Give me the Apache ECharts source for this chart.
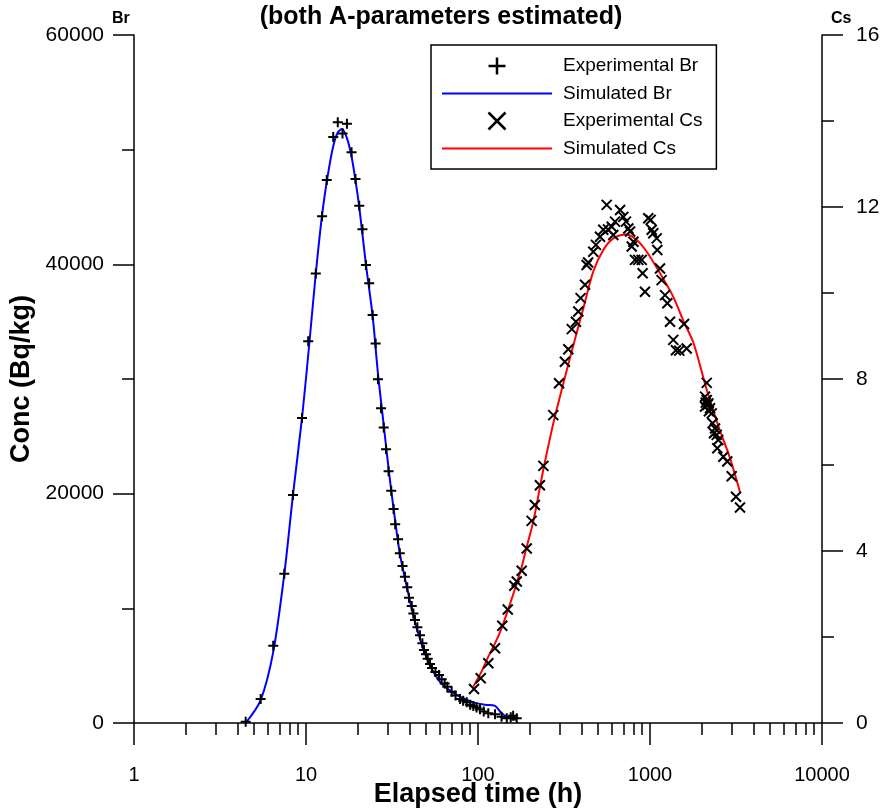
<!DOCTYPE html>
<html>
<head>
<meta charset="utf-8">
<script src="https://cdn.jsdelivr.net/npm/echarts@6/dist/echarts.min.js"></script>
<style>html,body{margin:0;padding:0;background:#fff}#c{width:882px;height:810px}</style>
</head>
<body>
<div id="c"></div>
<script>
// ---- data ----
var brTime = [4.46,5.45,6.45,7.48,8.4,9.48,10.3,11.4,12.4,13.2,14.4,15.3,16.3,17.3,18.4,19.4,20.4,21.3,22.3,23.3,24.4,25.4,26.2,27.3,28.3,29.2,30.2,31.3,32.3,33.0,34.3,35.1,36.4,37.6,38.8,39.7,41.2,42.1,43.0,44.4,46.0,47.5,48.5,49.9,51.0,52.6,54.0,56.5,59.3,61.5,64,66.3,70.3,74,78.6,82,86,90,93.9,98,102.7,108,114.8,125.6,137,147,155,160,168];
var brConc = [100,2090,6740,13020,19880,26600,33300,39200,44200,47350,51100,52400,51400,52250,49770,47440,45110,43050,39940,38340,35580,33100,29970,27440,25780,23870,21950,20260,18660,17330,16020,14800,13700,12760,11830,10930,10200,9560,8980,8340,7650,6950,6370,5990,5610,5150,4800,4450,4190,3810,3450,3170,2730,2400,2090,1950,1800,1600,1480,1350,1190,1000,840,760,550,410,500,640,410];

var brSimTime = [4.46,5.45,6.45,7.48,8.4,9.48,10.5,11.4,12.4,13.4,14.4,15.3,16.2,17.3,18.4,19.4,20.4,22.3,24.4,26.2,28.3,30.2,32.3,35.1,38.8,43,48.5,52.6,59.3,66.3,78.6,94,110,125.6,137,150,168];
var brSimConc = [0,2000,6200,13000,19900,26600,33400,39200,44300,47800,50300,51500,51800,51000,49400,47300,45000,40000,35500,30500,26000,22200,18700,14800,11700,8800,6300,5000,3700,3000,2300,1800,1600,1500,850,500,250];

var csTime = [94.8,103.7,114.8,125.6,138.4,148.9,162.6,168,179.5,192,205,214,229,240,274,296,320,335,351,371,383,395,419,428,437,468,485,512,535,560,570,599,612,626,670,700,725,748,766,783,801,818,855,895,906,935,977,1009,1023,1045,1094,1103,1143,1168,1223,1261,1307,1366,1415,1480,1577,1634,2090,2110,2137,2137,2160,2183,2090,2200,2234,2285,2313,2388,2356,2444,2494,2461,2669,2814,2985,3162,3336];
var csConc = [0.79,1.04,1.39,1.74,2.26,2.64,3.19,3.29,3.54,4.06,4.70,5.07,5.53,5.98,7.16,7.90,8.40,8.69,9.16,9.33,9.57,9.88,10.19,10.65,10.71,10.96,11.12,11.31,11.47,12.05,11.48,11.54,11.35,11.66,11.93,11.77,11.66,11.50,11.43,11.08,11.19,10.77,10.77,10.77,10.46,10.03,11.74,11.70,11.47,11.39,11.27,11.0,10.57,10.30,9.95,9.76,9.33,8.91,8.67,8.66,9.28,8.71,7.59,7.45,7.91,7.51,7.40,7.43,7.36,7.25,7.32,7.2,6.97,6.85,6.74,6.70,6.58,6.39,6.19,6.08,5.74,5.26,5.01];

var csSimTime = [94,105,115,125.6,137,150,165,180,192,210,240,268,285,343,410,468,535,612,732,837,957,1143,1366,1563,1786,2137,2500,2917,3336];
var csSimConc = [0.85,1.2,1.55,1.85,2.2,2.65,3.15,3.65,4.1,4.7,5.9,6.8,7.25,8.5,9.65,10.5,11.0,11.27,11.36,11.23,10.96,10.46,9.91,9.35,8.85,7.75,6.9,6.16,5.37];

var xMajorTicks = [1,10,100,1000,10000];

function pairs(a,b){ return a.map(function(v,i){ return [v,b[i]]; }); }
var minorX = [];
[1,10,100,1000].forEach(function(d){ for (var k=2;k<=9;k++) minorX.push(d*k); });

var FONT = 'Liberation Sans, Arial, Helvetica, sans-serif';
var PLUS = 'path://M0,5 L10,5 M5,0 L5,10';
var CROSS = 'path://M0,0 L10,10 M10,0 L0,10';
var BAR = 'path://M0,0 L110,0 L110,2 L0,2 Z';

var chart = echarts.init(document.getElementById('c'), null, {renderer:'canvas'});
var axisLineStyle = {color:'#000', width:1.5};
function plain(v){ return String(Math.round(v)); }
chart.setOption({
  animation:false,
  backgroundColor:'#fff',
  textStyle:{fontFamily:FONT, color:'#000'},
  title:[
    {text:'(both A-parameters estimated)', left:'center', top:5, padding:0,
     textStyle:{fontFamily:FONT, fontSize:25, fontWeight:'bold', color:'#000'}},
    {text:'Br', left:112, top:11, padding:0, textStyle:{fontFamily:FONT, fontSize:16, fontWeight:'bold', color:'#000'}},
    {text:'Cs', left:831, top:11, padding:0, textStyle:{fontFamily:FONT, fontSize:16, fontWeight:'bold', color:'#000'}}
  ],
  legend:{
    orient:'vertical', left:431, top:45,
    padding:[10,14,11,11], itemGap:7,
    itemWidth:110, itemHeight:17,
    borderColor:'#000', borderWidth:1.5, backgroundColor:'#fff',
    textStyle:{fontFamily:FONT, fontSize:19, color:'#000', padding:[0,0,0,6]},
    data:[
      {name:'Experimental Br', icon:PLUS, itemStyle:{color:'none', borderColor:'#000', borderWidth:2.5}},
      {name:'Simulated Br', icon:BAR, itemStyle:{color:'#0000ff', borderWidth:0}},
      {name:'Experimental Cs', icon:CROSS, itemStyle:{color:'none', borderColor:'#000', borderWidth:2.5}},
      {name:'Simulated Cs', icon:BAR, itemStyle:{color:'#ff0000', borderWidth:0}}
    ]
  },
  grid:{left:134, right:60, top:35, bottom:87, containLabel:false, outerBoundsMode:'none'},
  xAxis:[
    {type:'log', logBase:10, min:1, max:10000, position:'bottom',
     axisLine:{show:true, lineStyle:axisLineStyle, onZero:false},
     axisTick:{show:true, inside:false, length:22, lineStyle:axisLineStyle, customValues:xMajorTicks},
     axisLabel:{show:true, margin:42, fontFamily:FONT, fontSize:20, color:'#000', customValues:xMajorTicks, formatter:plain},
     splitLine:{show:false}, minorTick:{show:false}, minorSplitLine:{show:false},
     name:'Elapsed time (h)', nameLocation:'middle', nameGap:58, nameMoveOverlap:false,
     nameTextStyle:{fontFamily:FONT, fontSize:27, fontWeight:'bold', color:'#000'}},
    {type:'log', logBase:10, min:1, max:10000, position:'bottom',
     axisLine:{show:false, onZero:false},
     axisTick:{show:true, inside:false, length:12, lineStyle:axisLineStyle, customValues:minorX},
     axisLabel:{show:false}, splitLine:{show:false}}
  ],
  yAxis:[
    {type:'value', min:0, max:60000, interval:20000, position:'left',
     axisLine:{show:true, lineStyle:axisLineStyle, onZero:false},
     axisTick:{show:true, inside:false, length:21, lineStyle:axisLineStyle},
     minorTick:{show:true, splitNumber:2, length:12, lineStyle:axisLineStyle},
     axisLabel:{margin:30, fontFamily:FONT, fontSize:21, color:'#000', formatter:plain},
     splitLine:{show:false}, minorSplitLine:{show:false},
     name:'Conc (Bq/kg)', nameLocation:'middle', nameGap:99, nameMoveOverlap:false,
     nameTextStyle:{fontFamily:FONT, fontSize:27, fontWeight:'bold', color:'#000'}},
    {type:'value', min:0, max:16, interval:4, position:'right',
     axisLine:{show:true, lineStyle:axisLineStyle, onZero:false},
     axisTick:{show:true, inside:false, length:21, lineStyle:axisLineStyle},
     minorTick:{show:true, splitNumber:2, length:12, lineStyle:axisLineStyle},
     axisLabel:{margin:34, fontFamily:FONT, fontSize:21, color:'#000', formatter:plain},
     splitLine:{show:false}, minorSplitLine:{show:false}}
  ],
  series:[
    {name:'Simulated Br', type:'line', xAxisIndex:0, yAxisIndex:0, data:pairs(brSimTime, brSimConc),
     showSymbol:false, symbol:'none', smooth:0.3, lineStyle:{color:'#0000ff', width:2}, itemStyle:{color:'#0000ff'}, z:2},
    {name:'Simulated Cs', type:'line', xAxisIndex:0, yAxisIndex:1, data:pairs(csSimTime, csSimConc),
     showSymbol:false, symbol:'none', smooth:0.3, lineStyle:{color:'#ff0000', width:2}, itemStyle:{color:'#ff0000'}, z:2},
    {name:'Experimental Br', type:'scatter', xAxisIndex:0, yAxisIndex:0, data:pairs(brTime, brConc),
     symbol:PLUS, symbolSize:10, itemStyle:{color:'none', borderColor:'#000', borderWidth:2, opacity:1}, z:3},
    {name:'Experimental Cs', type:'scatter', xAxisIndex:0, yAxisIndex:1, data:pairs(csTime, csConc),
     symbol:CROSS, symbolSize:10, itemStyle:{color:'none', borderColor:'#000', borderWidth:2, opacity:1}, z:3}
  ]
});
</script>
</body>
</html>
